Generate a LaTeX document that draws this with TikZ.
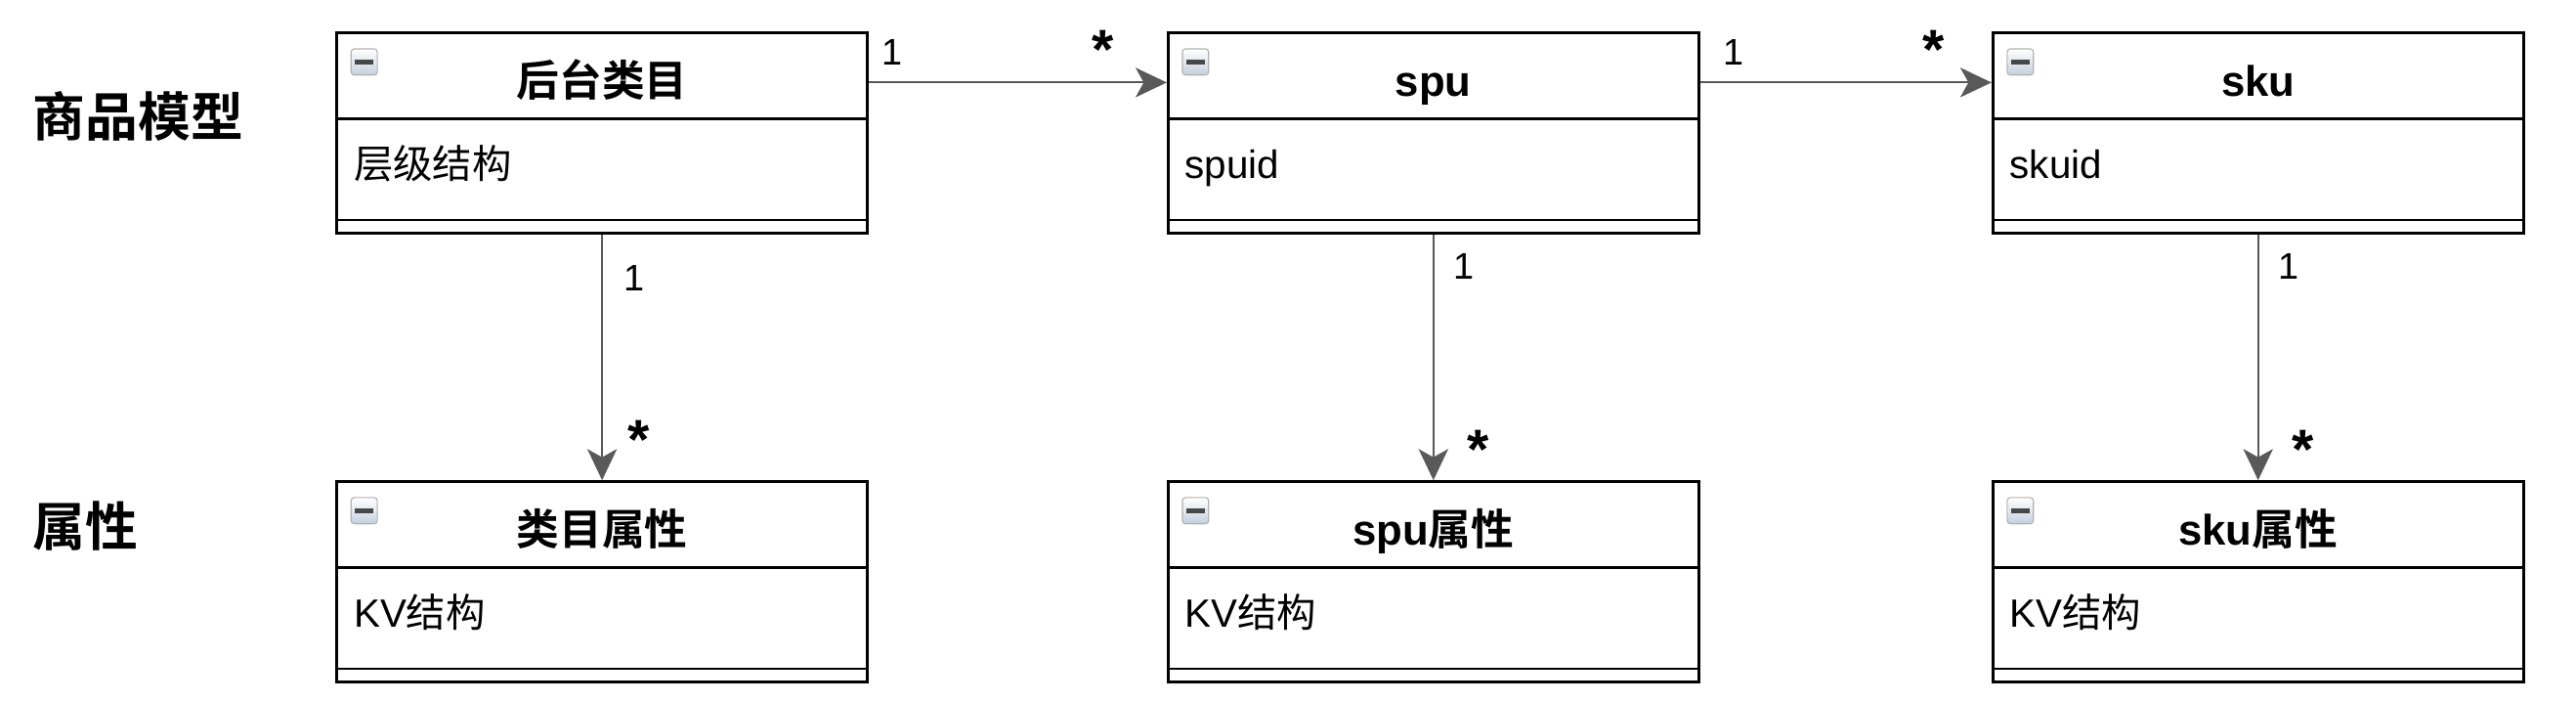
\documentclass[tikz,border=0pt]{standalone}
\usepackage{fontspec}
\setmainfont{Liberation Sans}
\newfontfamily\cjk{Noto Sans CJK SC}[BoldFont={Noto Sans CJK SC Bold}]
\usetikzlibrary{arrows.meta}
\definecolor{linkgray}{HTML}{595959}
\definecolor{iconblue}{HTML}{C3CFDF}
\definecolor{minusgray}{HTML}{474747}

\begin{document}
\begin{tikzpicture}[x=1pt,y=1pt,every node/.style={inner sep=0pt,font=\fontsize{24}{28}\selectfont},
 cls/.style={draw,line width=1.6pt,minimum width=323pt,minimum height=122pt},
 sep/.style={line width=1.6pt},
 ttl/.style={anchor=base,font=\fontsize{26}{30}\selectfont\bfseries},
 attr/.style={anchor=base west},
 icon/.style={draw=black!30,line width=0.7pt,rounded corners=2pt,top color=white,bottom color=iconblue,minimum size=16pt},
 link/.style={linkgray,line width=1.3pt,-{Stealth[length=19pt,width=18pt,inset=5pt]}},
 mult/.style={font=\fontsize{22.5}{26}\selectfont},
 star/.style={font=\fontsize{34}{38}\selectfont\bfseries},
 rowlabel/.style={anchor=west,font=\fontsize{32}{36}\selectfont\bfseries\cjk}]
\useasboundingbox (0,0) rectangle (1568,427);
\node[rowlabel] (model) at (20,356) {商品模型}; \node[rowlabel] (props) at (20,107) {属性};
% top row
\node[cls] (cat) at (366.5,346) {}; \draw[sep] ([yshift=-53pt]cat.north west) -- ([yshift=-53pt]cat.north east) ([yshift=9pt]cat.south west) -- ([yshift=9pt]cat.south east);
\node[icon] (catI) at ([xshift=17.5pt,yshift=-18.5pt]cat.north west) {\color{minusgray}\rule{11pt}{3pt}}; \node[ttl] (catT) at ([yshift=-39.5pt]cat.north) {\cjk 后台类目}; \node[attr] (catA) at ([xshift=11pt,yshift=-89.5pt]cat.north west) {\cjk 层级结构};
\node[cls] (spu) at (872.5,346) {}; \draw[sep] ([yshift=-53pt]spu.north west) -- ([yshift=-53pt]spu.north east) ([yshift=9pt]spu.south west) -- ([yshift=9pt]spu.south east);
\node[icon] (spuI) at ([xshift=17.5pt,yshift=-18.5pt]spu.north west) {\color{minusgray}\rule{11pt}{3pt}}; \node[ttl] (spuT) at ([yshift=-39.5pt]spu.north) {spu}; \node[attr] (spuA) at ([xshift=11pt,yshift=-89.5pt]spu.north west) {spuid};
\node[cls] (sku) at (1374.5,346) {}; \draw[sep] ([yshift=-53pt]sku.north west) -- ([yshift=-53pt]sku.north east) ([yshift=9pt]sku.south west) -- ([yshift=9pt]sku.south east);
\node[icon] (skuI) at ([xshift=17.5pt,yshift=-18.5pt]sku.north west) {\color{minusgray}\rule{11pt}{3pt}}; \node[ttl] (skuT) at ([yshift=-39.5pt]sku.north) {sku}; \node[attr] (skuA) at ([xshift=11pt,yshift=-89.5pt]sku.north west) {skuid};
% bottom row
\node[cls] (catP) at (366.5,73) {}; \draw[sep] ([yshift=-53pt]catP.north west) -- ([yshift=-53pt]catP.north east) ([yshift=9pt]catP.south west) -- ([yshift=9pt]catP.south east);
\node[icon] (catPI) at ([xshift=17.5pt,yshift=-18.5pt]catP.north west) {\color{minusgray}\rule{11pt}{3pt}}; \node[ttl] (catPT) at ([yshift=-39.5pt]catP.north) {\cjk 类目属性}; \node[attr] (catPA) at ([xshift=11pt,yshift=-89.5pt]catP.north west) {KV{\cjk 结构}};
\node[cls] (spuP) at (872.5,73) {}; \draw[sep] ([yshift=-53pt]spuP.north west) -- ([yshift=-53pt]spuP.north east) ([yshift=9pt]spuP.south west) -- ([yshift=9pt]spuP.south east);
\node[icon] (spuPI) at ([xshift=17.5pt,yshift=-18.5pt]spuP.north west) {\color{minusgray}\rule{11pt}{3pt}}; \node[ttl] (spuPT) at ([yshift=-39.5pt]spuP.north) {spu{\cjk 属性}}; \node[attr] (spuPA) at ([xshift=11pt,yshift=-89.5pt]spuP.north west) {KV{\cjk 结构}};
\node[cls] (skuP) at (1374.5,73) {}; \draw[sep] ([yshift=-53pt]skuP.north west) -- ([yshift=-53pt]skuP.north east) ([yshift=9pt]skuP.south west) -- ([yshift=9pt]skuP.south east);
\node[icon] (skuPI) at ([xshift=17.5pt,yshift=-18.5pt]skuP.north west) {\color{minusgray}\rule{11pt}{3pt}}; \node[ttl] (skuPT) at ([yshift=-39.5pt]skuP.north) {sku{\cjk 属性}}; \node[attr] (skuPA) at ([xshift=11pt,yshift=-89.5pt]skuP.north west) {KV{\cjk 结构}};
% links
\draw[link] ([yshift=-31pt]cat.north east) -- ([yshift=-31pt]spu.north west); \node[mult] (m1) at (543,395.4) {1}; \node[star] (s1) at (671.6,397) {*};
\draw[link] ([yshift=-31pt]spu.north east) -- ([yshift=-31pt]sku.north west); \node[mult] (m2) at (1055,395.4) {1}; \node[star] (s2) at (1177,397) {*};
\draw[link] (cat.south) -- (catP.north); \node[mult] (m3) at (386,258) {1}; \node[star] (s3) at (389,159.5) {*};
\draw[link] (spu.south) -- (spuP.north); \node[mult] (m4) at (891,265) {1}; \node[star] (s4) at (899.5,153.5) {*};
\draw[link] (sku.south) -- (skuP.north); \node[mult] (m5) at (1393,265) {1}; \node[star] (s5) at (1402,153.5) {*};
\end{tikzpicture}
\end{document}
